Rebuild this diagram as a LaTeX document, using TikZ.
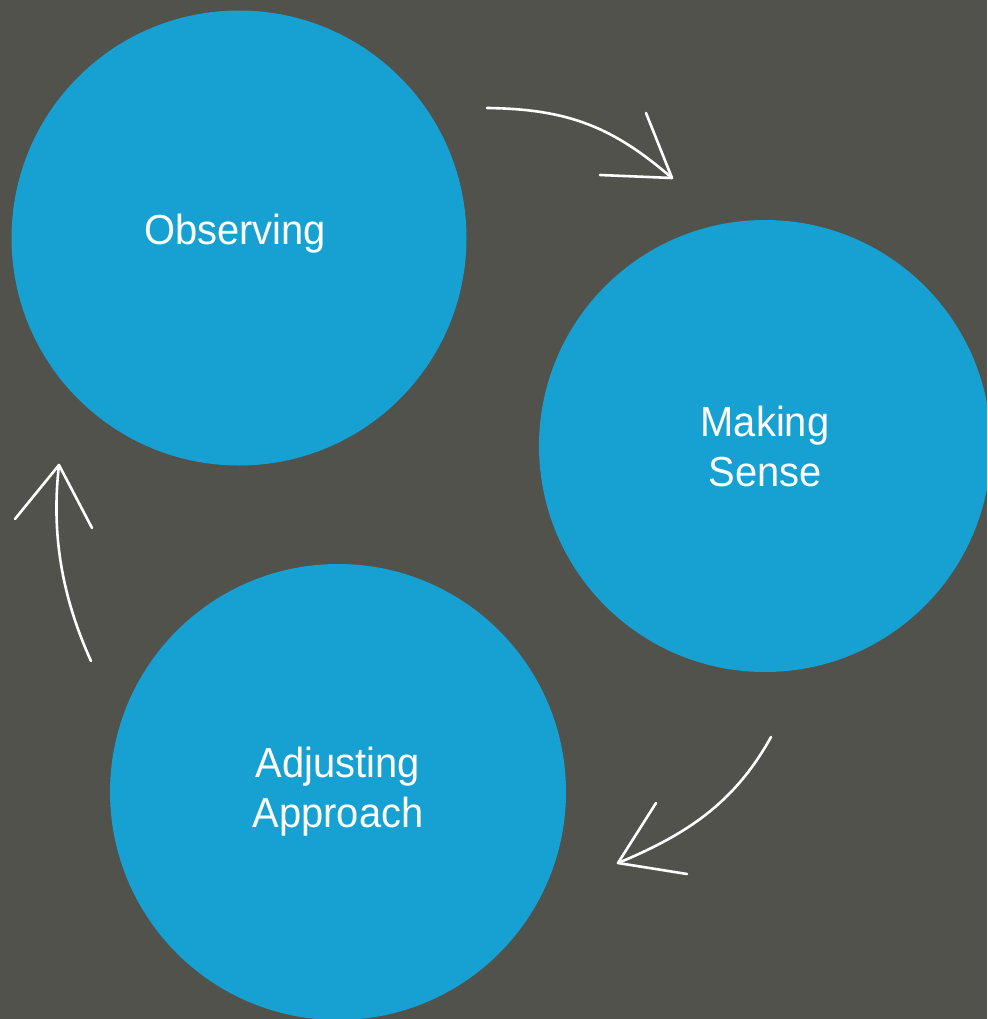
\documentclass[tikz,border=0pt]{standalone}
\usepackage{fontspec}
\setmainfont{Liberation Sans}[FakeStretch=0.95]
\definecolor{bgc}{RGB}{82,82,77}
\definecolor{bluec}{RGB}{22,161,210}
\begin{document}
\begin{tikzpicture}[x=1pt,y=-1pt,
  circ/.style={circle,fill=bluec,draw=none,inner sep=0pt,minimum size=#1},
  lbl/.style={text=white,align=center,inner sep=0pt,font=\fontsize{42}{50}\selectfont},
  flow/.style={draw=white,line width=2.6pt,line cap=round,line join=round}]
\useasboundingbox (0,0) rectangle (987,1019);
\fill[bgc] (0,0) rectangle (987,1019);
\begin{scope}
\clip (0,0) rectangle (987,1019);
\node[circ=455pt] (obs) at (239,238) {};
\node[circ=452pt] (mak) at (765,446) {};
\node[circ=456pt] (adj) at (338,792) {};
\end{scope}
\node[lbl] (obst) at (235,234) {Observing};
\node[lbl] (makt) at (765,446) {Making\\Sense};
\node[lbl] (adjt) at (338,792) {Adjusting\\Approach};
% arrow 1
\coordinate (a1s) at (487,108);
\coordinate (a1t) at (672,178);
\coordinate (a1l) at (646,113);
\coordinate (a1r) at (600,175);
\draw[flow] (a1s) .. controls (570,109) and (614,128) .. (a1t);
\draw[flow] (a1l) -- (a1t) -- (a1r);
% arrow 2
\coordinate (a2s) at (771,737);
\coordinate (a2t) at (618,863);
\coordinate (a2l) at (656,803);
\coordinate (a2r) at (687,874);
\draw[flow] (a2s) .. controls (735,802) and (688,834) .. (a2t);
\draw[flow] (a2l) -- (a2t) -- (a2r);
% arrow 3
\coordinate (a3s) at (91,661);
\coordinate (a3t) at (59,465);
\coordinate (a3l) at (15,519);
\coordinate (a3r) at (92,528);
\draw[flow] (a3s) .. controls (62,597) and (51,534) .. (a3t);
\draw[flow] (a3l) -- (a3t) -- (a3r);
\end{tikzpicture}
\end{document}
